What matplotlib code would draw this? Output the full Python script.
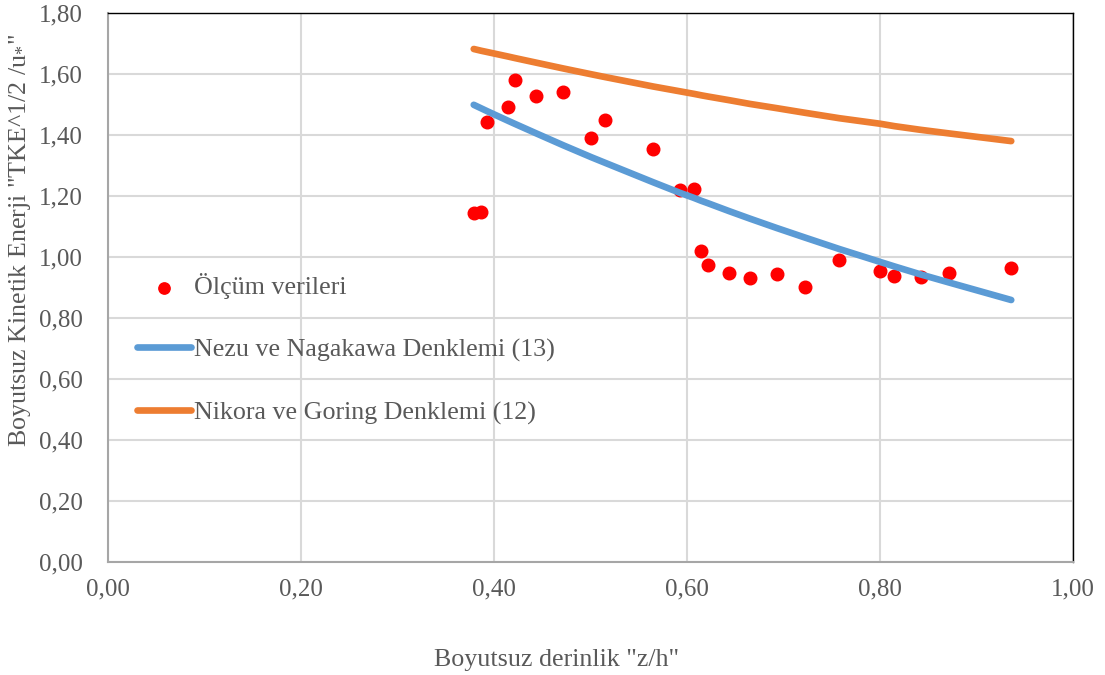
import matplotlib.pyplot as plt
from matplotlib.ticker import FuncFormatter, MultipleLocator

# measured data (z/h, TKE^0.5/u*)
z_h = [0.379, 0.387, 0.393, 0.415, 0.422, 0.444, 0.472, 0.501, 0.515, 0.565,
       0.593, 0.607, 0.615, 0.622, 0.644, 0.665, 0.693, 0.722, 0.758, 0.800,
       0.815, 0.842, 0.872, 0.936]
olcum = [1.144, 1.148, 1.443, 1.492, 1.580, 1.528, 1.541, 1.390, 1.449, 1.354,
         1.220, 1.223, 1.020, 0.974, 0.948, 0.931, 0.944, 0.902, 0.990, 0.954,
         0.938, 0.934, 0.948, 0.964]

# curves at the same z/h
nezu = [1.499, 1.487, 1.478, 1.446, 1.436, 1.405, 1.366, 1.327, 1.309, 1.245,
        1.210, 1.194, 1.184, 1.176, 1.150, 1.126, 1.095, 1.064, 1.026, 0.984,
        0.969, 0.943, 0.916, 0.859]
nikora = [1.682, 1.676, 1.672, 1.657, 1.652, 1.637, 1.618, 1.599, 1.590, 1.559,
          1.543, 1.535, 1.530, 1.526, 1.514, 1.502, 1.488, 1.473, 1.455, 1.437,
          1.429, 1.417, 1.405, 1.380]

plt.rcParams['font.family'] = ['Liberation Serif', 'DejaVu Serif']
plt.rcParams['mathtext.fontset'] = 'custom'
plt.rcParams['mathtext.rm'] = 'Liberation Serif'
plt.rcParams['mathtext.it'] = 'Liberation Serif:italic'

gri = '#595959'
fs = 18.7

fig = plt.figure(figsize=(11.05, 6.75), dpi=100, facecolor='white')
ax = fig.add_axes([108 / 1105, 1 - 562 / 675, 965 / 1105, 549 / 675])

ax.scatter(z_h, olcum, s=82, color='#ff0000', zorder=2, label='Ölçüm verileri')
ax.plot(z_h, nezu, color='#5b9bd5', lw=4.8, solid_capstyle='round', zorder=3,
        label='Nezu ve Nagakawa Denklemi (13)')
ax.plot(z_h, nikora, color='#ed7d31', lw=4.8, solid_capstyle='round', zorder=3,
        label='Nikora ve Goring Denklemi (12)')

ax.set_xlim(0, 1)
ax.set_ylim(0, 1.8)
ax.xaxis.set_major_locator(MultipleLocator(0.2))
ax.yaxis.set_major_locator(MultipleLocator(0.2))
virgul = FuncFormatter(lambda v, p: f"{v:.2f}".replace('.', ','))
ax.xaxis.set_major_formatter(virgul)
ax.yaxis.set_major_formatter(virgul)
ax.tick_params(axis='both', length=0, labelsize=18, labelcolor=gri)
ax.tick_params(axis='y', pad=18)
ax.tick_params(axis='x', pad=12)

ax.grid(True, color='#d9d9d9', lw=1.5, zorder=0)
ax.set_axisbelow(True)
for s in ['left', 'bottom']:
    ax.spines[s].set_color('#a6a6a6')
    ax.spines[s].set_linewidth(1.5)
for s in ['top', 'right']:
    ax.spines[s].set_color('black')
    ax.spines[s].set_linewidth(1.0)

leg = ax.legend(loc='center left', bbox_to_anchor=(0.03, 0.388), frameon=False,
                fontsize=fs, handlelength=2.1, handletextpad=0.1,
                labelspacing=1.5, borderpad=0, borderaxespad=0, markerscale=0.9)
for t in leg.get_texts():
    t.set_color(gri)

fig.text(20 / 1105, 1 - 240 / 675, 'Boyutsuz Kinetik Enerji "TKE^1/2 /u$_{*}$"',
         rotation=90, ha='center', va='center', fontsize=fs, color=gri)
fig.text(557 / 1105, 1 - 660 / 675, 'Boyutsuz derinlik "z/h"',
         ha='center', va='center', fontsize=fs, color=gri)

fig.savefig('out.png', dpi=100, facecolor='white')
